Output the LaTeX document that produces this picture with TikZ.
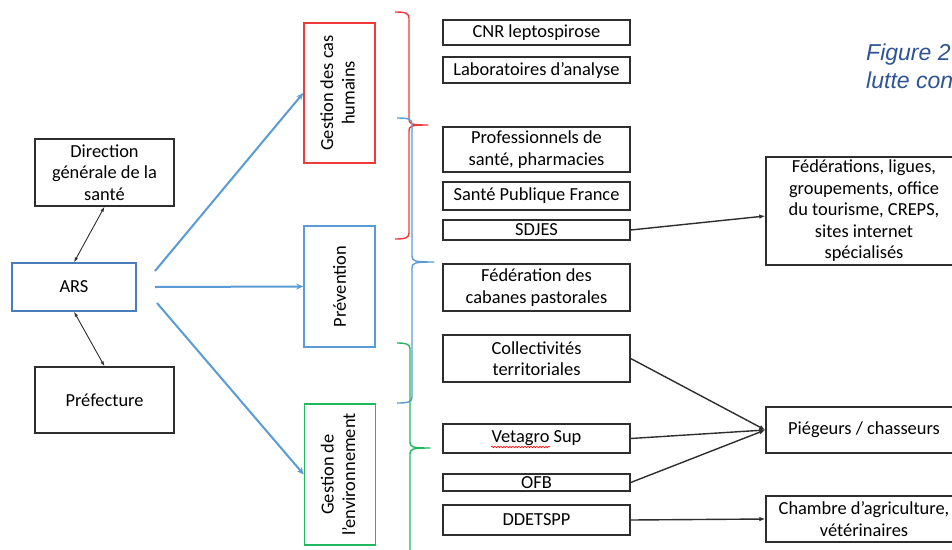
\documentclass[tikz,border=0pt]{standalone}
\usepackage{fontspec}
\usepackage{graphicx}
\setmainfont{Carlito}
\newfontfamily\capfont{Liberation Sans}
\usetikzlibrary{arrows.meta,calc,decorations.pathmorphing}
\definecolor{cred}{HTML}{F03A3A}
\definecolor{cblue}{HTML}{5B9BD5}
\definecolor{carsblue}{HTML}{4A7EBB}
\definecolor{cgreen}{HTML}{22B860}
\definecolor{boxgray}{HTML}{2E2E2E}
\definecolor{capblue}{HTML}{2E5496}
\newcommand\bracepath[7]{%
  \draw[#1,line width=1.4pt,line join=round]
    (#2,#5) .. controls (#3-4,#5) and (#3,#5+1) .. (#3,#5+6)
    -- (#3,#6-6) .. controls (#3,#6-1) and (#3+2,#6) .. (#4,#6)
    .. controls (#3+2,#6) and (#3,#6+1) .. (#3,#6+6)
    -- (#3,#7-6) .. controls (#3,#7-1) and (#3-4,#7) .. (#2,#7);}
\begin{document}
\begin{tikzpicture}[x=1pt,y=-1pt,
  txt/.style={font=\fontsize{18.4}{21.5}\selectfont},
  box/.style={txt,draw=boxgray,line width=1.4pt,inner sep=0pt,align=center},
  midbox/.style={box,minimum width=187pt},
  rightbox/.style={box,minimum width=196pt},
  catbox/.style={txt,draw=#1,line width=1.5pt,inner sep=0pt,align=center,minimum width=71pt},
  bluearrow/.style={cblue,line width=2pt,-{Stealth[length=7pt,width=6pt]}},
  thinarrow/.style={boxgray,line width=1.4pt,-{Latex[length=6pt,width=4.5pt]}},
  dblarrow/.style={boxgray,line width=0.9pt,{Latex[length=5pt,width=3.5pt]}-{Latex[length=5pt,width=3.5pt]}}]
\path[use as bounding box,clip] (0,0) rectangle (952,549);
\fill[white] (0,0) rectangle (952,549);

% left column
\node[box,minimum width=139pt,minimum height=67pt] (dgs) at (104.5,172.5) {Direction\\générale de la\\santé};
\node[box,draw=carsblue,minimum width=124pt,minimum height=48pt] (ars) at (74,287) {ARS};
\node[box,minimum width=139pt,minimum height=66pt] (pref) at (104.5,400) {Préfecture};
\draw[dblarrow] (dgs.south) -- (ars.north);
\draw[dblarrow] (ars.south) -- (pref.north);

% category boxes
\node[catbox=cred,minimum height=140pt] (gch) at (339.5,93) {\rotatebox{90}{\begin{tabular}{@{}c@{}}Gestion des cas\\humains\end{tabular}}};
\node[catbox=cblue,minimum height=121pt] (prev) at (339.5,286.5) {\rotatebox{90}{Prévention}};
\node[catbox=cgreen,minimum height=141pt] (ge) at (340,474.5) {\rotatebox{90}{\begin{tabular}{@{}c@{}}Gestion de\\l’environnement\end{tabular}}};

\coordinate (s1) at (155,271);
\coordinate (s2) at (155,287);
\coordinate (s3) at (157,303);
\draw[bluearrow] (s1) -- (gch.west);
\draw[bluearrow] (s2) -- (prev.west);
\draw[bluearrow] (s3) -- (ge.west);

% braces
\bracepath{cred}{395}{409}{428}{12}{125}{239}
\bracepath{cblue}{397}{412}{434}{118}{262}{403}
\bracepath{cgreen}{397}{410}{430}{343}{448}{570}

% middle column
\node[midbox,minimum height=25pt] (cnr) at (536.5,32.5) {CNR leptospirose};
\node[midbox,minimum height=26pt] (labo) at (536.5,70) {Laboratoires d’analyse};
\node[midbox,minimum height=45pt] (prof) at (536.5,149.5) {Professionnels de\\santé, pharmacies};
\node[midbox,minimum height=28pt] (spf) at (536.5,196) {Santé Publique France};
\node[midbox,minimum height=20pt] (sdjes) at (536.5,230) {SDJES};
\node[midbox,minimum height=47pt] (fcp) at (536.5,287.5) {Fédération des\\cabanes pastorales};
\node[midbox,minimum height=47pt] (coll) at (536.5,358.5) {Collectivités\\territoriales};
\node[midbox,minimum height=29pt] (veta) at (536.5,438.5) {Vetagro Sup};
\node[midbox,minimum height=17pt] (ofb) at (536.5,482.5) {OFB};
\node[midbox,minimum height=30pt] (ddet) at (536.5,520) {DDETSPP};
\draw[red,line width=0.6pt,decorate,decoration={snake,amplitude=0.8pt,segment length=3pt}] (491,447) -- (550,447);

% right column
\node[rightbox,minimum height=108pt] (fed) at (864,211) {Fédérations, ligues,\\groupements, office\\du tourisme, CREPS,\\sites internet\\spécialisés};
\node[rightbox,minimum height=46pt] (pieg) at (864,430) {Piégeurs / chasseurs};
\node[rightbox,minimum height=46pt] (cham) at (864,519) {Chambre d’agriculture,\\vétérinaires};

\draw[thinarrow] (sdjes.east) -- ($(fed.west)+(0,5)$);
\draw[thinarrow] (coll.east) -- (pieg.west);
\draw[thinarrow] (veta.east) -- (pieg.west);
\draw[thinarrow] (ofb.east) -- (pieg.west);
\draw[thinarrow] (ddet.east) -- (cham.west);

% caption
\node[anchor=base west,inner sep=0pt,text=capblue,font=\capfont\itshape\fontsize{23}{28}\selectfont] (cap1) at (866,60) {Figure 2};
\node[anchor=base west,inner sep=0pt,text=capblue,font=\capfont\itshape\fontsize{23}{28}\selectfont] (cap2) at (866,88) {lutte con};
\end{tikzpicture}
\end{document}
